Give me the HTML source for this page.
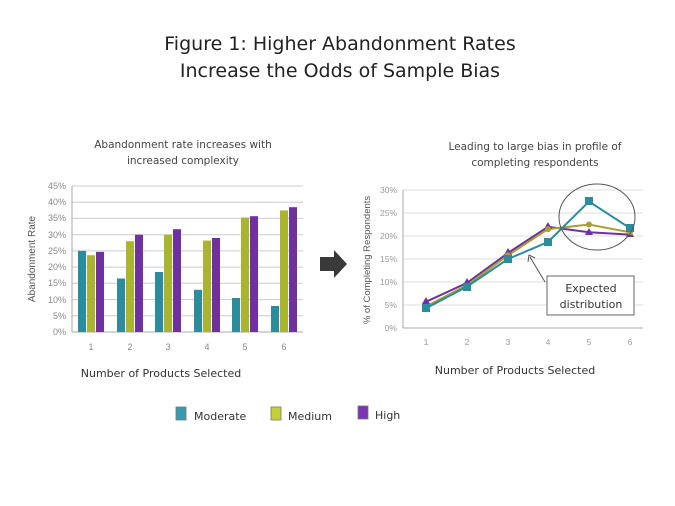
<!DOCTYPE html>
<html><head><meta charset="utf-8"><style>
body{margin:0;background:#fff;}
svg{display:block;font-family:"DejaVu Sans","Liberation Sans",sans-serif;}
</style></head><body>
<svg width="675" height="506" xmlns="http://www.w3.org/2000/svg">
<text x="340" y="50" font-size="19" text-anchor="middle" fill="#222">Figure 1: Higher Abandonment Rates</text>
<text x="340" y="77" font-size="19" text-anchor="middle" fill="#222">Increase the Odds of Sample Bias</text>
<text x="183" y="148" font-size="10.5" text-anchor="middle" fill="#444">Abandonment rate increases with</text>
<text x="183" y="164" font-size="10.5" text-anchor="middle" fill="#444">increased complexity</text>
<text x="535" y="150" font-size="10.5" text-anchor="middle" fill="#444">Leading to large bias in profile of</text>
<text x="535" y="166" font-size="10.5" text-anchor="middle" fill="#444">completing respondents</text>

<!-- left chart -->
<g font-size="9" fill="#888" font-family="Liberation Sans,sans-serif">
<g stroke="#ccc" stroke-width="1">
<line x1="72" x2="303" y1="186" y2="186"/><line x1="72" x2="303" y1="202.2" y2="202.2"/>
<line x1="72" x2="303" y1="218.4" y2="218.4"/><line x1="72" x2="303" y1="234.7" y2="234.7"/>
<line x1="72" x2="303" y1="250.9" y2="250.9"/><line x1="72" x2="303" y1="267.1" y2="267.1"/>
<line x1="72" x2="303" y1="283.3" y2="283.3"/><line x1="72" x2="303" y1="299.6" y2="299.6"/>
<line x1="72" x2="303" y1="315.8" y2="315.8"/><line x1="72" x2="303" y1="332" y2="332" stroke="#aaa"/>
<line x1="72" x2="72" y1="186" y2="332" stroke="#aaa"/>
</g>
<g text-anchor="end">
<text x="66" y="189">45%</text><text x="66" y="205">40%</text><text x="66" y="221">35%</text><text x="66" y="238">30%</text><text x="66" y="254">25%</text><text x="66" y="270">20%</text><text x="66" y="286">15%</text><text x="66" y="303">10%</text><text x="66" y="319">5%</text><text x="66" y="335">0%</text>
</g>
<g text-anchor="middle">
<text x="91" y="350">1</text><text x="130" y="350">2</text><text x="168" y="350">3</text><text x="207" y="350">4</text><text x="245" y="350">5</text><text x="284" y="350">6</text>
</g>
<text transform="translate(35,259) rotate(-90)" text-anchor="middle" font-size="10" fill="#555">Abandonment Rate</text>
</g>
<g>
<!-- moderate -->
<g fill="#2a8c9c">
<rect x="78" y="250.9" width="8" height="81.1"/><rect x="117" y="278.5" width="8" height="53.5"/><rect x="155" y="272" width="8" height="60"/><rect x="194" y="289.8" width="8" height="42.2"/><rect x="232" y="298" width="8" height="34"/><rect x="271" y="306" width="8" height="26"/>
</g>
<g fill="#a9b52e">
<rect x="87" y="255.2" width="8" height="76.8"/><rect x="126" y="241.2" width="8" height="90.8"/><rect x="164" y="234.7" width="8" height="97.3"/><rect x="203" y="240.6" width="8" height="91.4"/><rect x="241" y="217.5" width="8" height="114.5"/><rect x="280" y="210.4" width="8" height="121.6"/>
</g>
<g fill="#7030a0">
<rect x="96" y="251.9" width="8" height="80.1"/><rect x="135" y="234.7" width="8" height="97.3"/><rect x="173" y="229.2" width="8" height="102.8"/><rect x="212" y="238" width="8" height="94"/><rect x="250" y="216.2" width="8" height="115.8"/><rect x="289" y="207.2" width="8" height="124.8"/>
</g>
</g>
<text x="161" y="377" font-size="11" text-anchor="middle" fill="#333">Number of Products Selected</text>

<!-- arrow -->
<polygon points="320,257 334,257 334,250 347,264 334,278 334,271 320,271" fill="#3a3a3a"/>

<!-- right chart -->
<g font-size="8.5" fill="#999" font-family="Liberation Sans,sans-serif">
<g stroke="#ddd" stroke-width="1">
<line x1="403" x2="643" y1="190" y2="190"/><line x1="403" x2="643" y1="213" y2="213"/>
<line x1="403" x2="643" y1="236" y2="236"/><line x1="403" x2="643" y1="259" y2="259"/>
<line x1="403" x2="643" y1="282" y2="282"/><line x1="403" x2="643" y1="305" y2="305"/>
<line x1="403" x2="643" y1="328" y2="328" stroke="#aaa"/>
<line x1="403" x2="403" y1="190" y2="328" stroke="#aaa"/>
</g>
<g text-anchor="end">
<text x="397" y="193">30%</text><text x="397" y="216">25%</text><text x="397" y="239">20%</text><text x="397" y="262">15%</text><text x="397" y="285">10%</text><text x="397" y="308">5%</text><text x="397" y="331">0%</text>
</g>
<g text-anchor="middle">
<text x="426" y="345">1</text><text x="467" y="345">2</text><text x="508" y="345">3</text><text x="548" y="345">4</text><text x="589" y="345">5</text><text x="630" y="345">6</text>
</g>
<text transform="translate(370,260) rotate(-90)" text-anchor="middle" font-size="9.5" fill="#555">% of Completing Respondents</text>
</g>
<polyline fill="none" stroke="#7030a0" stroke-width="2" points="426,301.8 467,282.9 508,253 548,226.8 589,232.3 630,234.6"/>
<polyline fill="none" stroke="#a9a030" stroke-width="2" points="426,306.4 467,285.2 508,255.3 548,229.1 589,224.5 630,232.3"/>
<polyline fill="none" stroke="#2a8c9c" stroke-width="2" points="426,308.2 467,286.6 508,259 548,242 589,201.5 630,228.2"/>
<g fill="#7030a0"><polygon points="426,297 430,304 422,304"/><polygon points="467,278 471,285 463,285"/><polygon points="508,248 512,255 504,255"/><polygon points="548,222 552,229 544,229"/><polygon points="589,228 593,235 585,235"/><polygon points="630,230 634,237 626,237"/></g>
<g fill="#a9a030"><circle cx="508" cy="255.3" r="3"/><circle cx="548" cy="229.1" r="3"/><circle cx="589" cy="224.5" r="3"/><circle cx="630" cy="232.3" r="3"/></g>
<g fill="#2a8c9c"><rect x="422" y="304" width="8" height="8"/><rect x="463" y="283" width="8" height="8"/><rect x="504" y="255" width="8" height="8"/><rect x="544" y="238" width="8" height="8"/><rect x="585" y="197" width="8" height="8"/><rect x="626" y="224" width="8" height="8"/></g>
<ellipse cx="597" cy="217" rx="38" ry="33" fill="none" stroke="#555" stroke-width="1"/>
<line x1="545" y1="282" x2="530" y2="257" stroke="#555" stroke-width="1"/>
<polyline points="528,262 529,255 535,258" fill="none" stroke="#555" stroke-width="1"/>
<rect x="547" y="276" width="87" height="39" fill="#fff" stroke="#666" stroke-width="1"/>
<text x="591" y="292" font-size="11" text-anchor="middle" fill="#333">Expected</text>
<text x="591" y="308" font-size="11" text-anchor="middle" fill="#333">distribution</text>
<text x="515" y="374" font-size="11" text-anchor="middle" fill="#333">Number of Products Selected</text>

<!-- legend -->
<rect x="176" y="407" width="10" height="13" fill="#3a9ab0" stroke="#777" stroke-width="0.8"/>
<text x="194" y="420" font-size="11" fill="#333">Moderate</text>
<rect x="271" y="407" width="10" height="13" fill="#c3cf33" stroke="#777" stroke-width="0.8"/>
<text x="288" y="420" font-size="11" fill="#333">Medium</text>
<rect x="358" y="406" width="10" height="13" fill="#7a35b0" stroke="#777" stroke-width="0.8"/>
<text x="375" y="419" font-size="11" fill="#333">High</text>
</svg>
</body></html>
